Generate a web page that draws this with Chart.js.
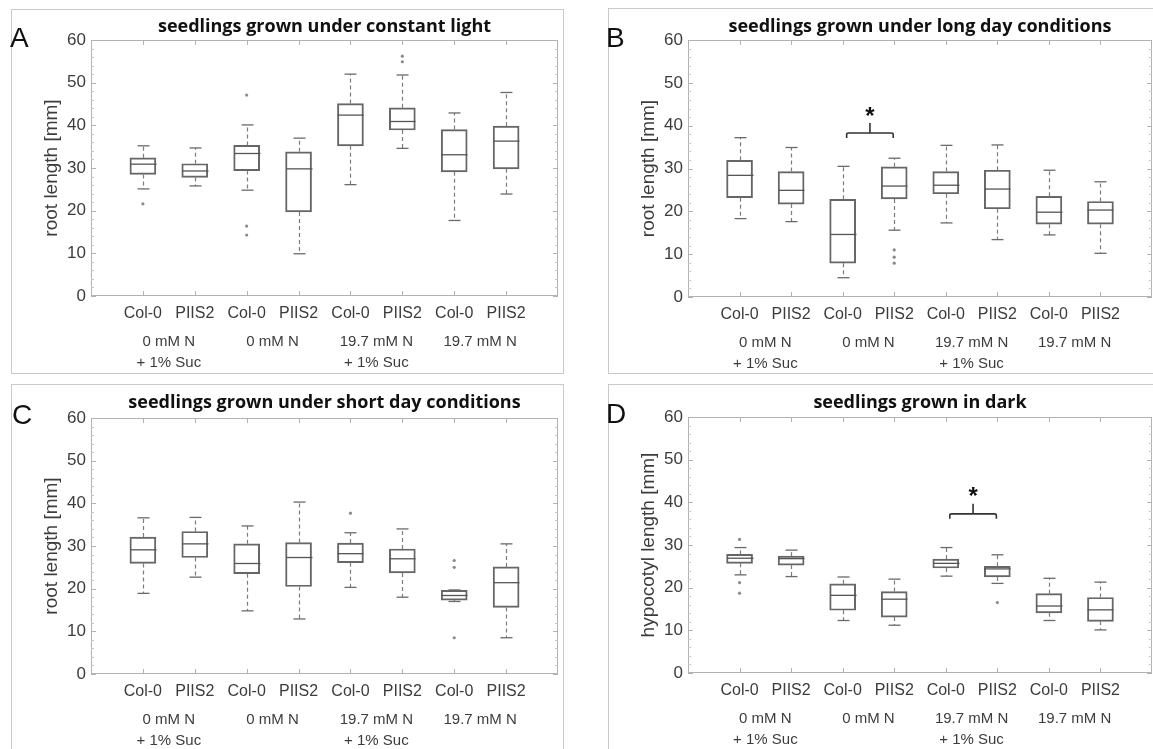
<!DOCTYPE html>
<html>
<head>
<meta charset="utf-8">
<script src="https://cdn.jsdelivr.net/npm/chart.js@4.4.1/dist/chart.umd.min.js"></script>
<style>
html, body { margin: 0; padding: 0; background: #fff; overflow: hidden; width: 1153px; height: 749px; }
.panel { position: absolute; border: 1px solid #c9c9c9; box-sizing: border-box; }
.panel canvas { position: absolute; left: 0; top: 0; }
.tag { position: absolute; font-family: "Liberation Sans", Arial, sans-serif; font-size: 28px; line-height: 1; color: #111; }
</style>
</head>
<body>
<div class="panel" id="pA" style="left:11px;top:9px;width:553px;height:365px"><canvas id="cA" width="551" height="363"></canvas></div>
<div class="panel" id="pB" style="left:608px;top:8px;width:552px;height:366px"><canvas id="cB" width="550" height="364"></canvas></div>
<div class="panel" id="pC" style="left:11px;top:384px;width:553px;height:368px"><canvas id="cC" width="551" height="366"></canvas></div>
<div class="panel" id="pD" style="left:608px;top:384px;width:552px;height:368px"><canvas id="cD" width="550" height="366"></canvas></div>
<div class="tag" style="left:10px;top:24px">A</div>
<div class="tag" style="left:606px;top:24px">B</div>
<div class="tag" style="left:12px;top:401px">C</div>
<div class="tag" style="left:606px;top:400px">D</div>

<script>
const genotypes = ['Col-0', 'PIIS2', 'Col-0', 'PIIS2', 'Col-0', 'PIIS2', 'Col-0', 'PIIS2'];
const media = [['0 mM N', '+ 1% Suc'], ['0 mM N'], ['19.7 mM N', '+ 1% Suc'], ['19.7 mM N']];
const yTicks = [0, 10, 20, 30, 40, 50, 60];

// A - constant light
const lightLo  = [25.1, 25.8, 24.8,  9.9, 26.1, 34.6, 17.7, 23.9];
const lightQ1  = [28.5, 27.8, 29.4, 19.7, 35.2, 38.9, 29.1, 29.8];
const lightMed = [30.9, 29.3, 33.4, 29.8, 42.4, 40.9, 33.1, 36.3];
const lightQ3  = [32.4, 31.0, 35.3, 33.8, 45.1, 44.1, 39.0, 39.8];
const lightHi  = [35.2, 34.7, 40.1, 37.0, 52.0, 51.8, 42.9, 47.7];
const lightOut = [[1, 21.6], [3, 47.1], [3, 16.4], [3, 14.3], [6, 56.2], [6, 54.9]];

// B - long day
const longLo  = [18.3, 17.6,  4.5, 15.6, 17.3, 13.4, 14.5, 10.2];
const longQ1  = [23.2, 21.7,  7.9, 22.9, 24.1, 20.6, 17.0, 17.0];
const longMed = [28.4, 24.9, 14.6, 25.9, 26.1, 25.2, 19.8, 20.3];
const longQ3  = [31.9, 29.3, 22.8, 30.4, 29.3, 29.6, 23.5, 22.3];
const longHi  = [37.2, 34.9, 30.5, 32.4, 35.4, 35.5, 29.6, 26.9];
const longOut = [[4, 11.0], [4, 9.3], [4, 7.9]];
const longSig = [3, 4, 38.3];

// C - short day
const shortLo  = [18.9, 22.7, 14.8, 12.9, 20.3, 18.0, 17.0,  8.5];
const shortQ1  = [25.9, 27.3, 23.5, 20.5, 26.1, 23.7, 17.3, 15.6];
const shortMed = [29.1, 30.5, 25.9, 27.3, 28.2, 27.0, 18.4, 21.4];
const shortQ3  = [32.1, 33.4, 30.5, 30.8, 30.7, 29.3, 19.6, 25.1];
const shortHi  = [36.6, 36.7, 34.7, 40.3, 33.1, 34.0, 19.7, 30.5];
const shortOut = [[5, 37.7], [7, 26.6], [7, 25.0], [7, 8.5]];

// D - dark (hypocotyl)
const darkLo  = [23.0, 22.6, 12.3, 11.2, 22.7, 21.0, 12.3, 10.1];
const darkQ1  = [25.7, 25.3, 14.7, 13.1, 24.6, 22.5, 14.1, 12.1];
const darkMed = [26.9, 26.8, 18.2, 17.3, 25.7, 24.4, 15.7, 14.8];
const darkQ3  = [27.8, 27.4, 20.9, 19.1, 26.7, 25.0, 18.6, 17.7];
const darkHi  = [29.4, 28.8, 22.5, 22.0, 29.4, 27.7, 22.2, 21.3];
const darkOut = [[1, 31.3], [1, 21.2], [1, 18.7], [6, 16.5]];
const darkSig = [5, 6, 37.3];

const txt = '#3c3c3c';
const sans = '"Liberation Sans", Arial, sans-serif';

// frame with inward ticks, like the MATLAB box
const framePlugin = {
    id: 'frame',
    beforeDatasetsDraw(chart) {
        const { ctx, chartArea: a, scales: { x, y } } = chart;
        ctx.save();
        ctx.strokeStyle = '#b2b2b2';
        ctx.lineWidth = 1;
        ctx.strokeRect(a.left + 0.5, a.top + 0.5, a.width - 1, a.height - 1);
        ctx.beginPath();
        genotypes.forEach((g, i) => {
            const px = Math.round(x.getPixelForValue(i + 1)) + 0.5;
            ctx.moveTo(px, a.bottom); ctx.lineTo(px, a.bottom - 5);
            ctx.moveTo(px, a.top); ctx.lineTo(px, a.top + 5);
        });
        yTicks.forEach(v => {
            const py = Math.round(y.getPixelForValue(v)) + 0.5;
            ctx.moveTo(a.left, py); ctx.lineTo(a.left + 5, py);
            ctx.moveTo(a.right, py); ctx.lineTo(a.right - 5, py);
        });
        ctx.stroke();
        ctx.strokeStyle = '#c8c8c8';
        ctx.beginPath();
        for (let v = 2; v < 60; v += 2) {
            if (v % 10 === 0) continue;
            const py = Math.round(y.getPixelForValue(v)) + 0.5;
            ctx.moveTo(a.left, py); ctx.lineTo(a.left + 3, py);
            ctx.moveTo(a.right, py); ctx.lineTo(a.right - 3, py);
        }
        ctx.stroke();
        ctx.restore();
    }
};

// whiskers, caps, medians and the significance bracket
const boxPlugin = {
    id: 'boxes',
    afterDatasetsDraw(chart, args, opts) {
        const { ctx, scales: { x, y } } = chart;
        const s = opts.stats;
        const seg = (x1, y1, x2, y2) => { ctx.beginPath(); ctx.moveTo(x1, y1); ctx.lineTo(x2, y2); ctx.stroke(); };
        ctx.save();
        s.lo.forEach((lo, i) => {
            const px = Math.round(x.getPixelForValue(i + 1)) + 0.5;
            const yLo = y.getPixelForValue(lo), yQ1 = y.getPixelForValue(s.q1[i]);
            const yQ3 = y.getPixelForValue(s.q3[i]), yHi = y.getPixelForValue(s.hi[i]);
            const yMed = y.getPixelForValue(s.med[i]);
            ctx.strokeStyle = '#7c7c7c';
            ctx.lineWidth = 1.2;
            ctx.setLineDash([4, 3]);
            if (yHi < yQ3) seg(px, yQ3, px, yHi);
            if (yLo > yQ1) seg(px, yQ1, px, yLo);
            ctx.setLineDash([]);
            ctx.strokeStyle = '#6a6a6a';
            ctx.lineWidth = 1.3;
            seg(px - 6, yHi, px + 6, yHi);
            seg(px - 6, yLo, px + 6, yLo);
            ctx.strokeStyle = '#555';
            seg(px - 13, yMed, px + 13, yMed);
        });
        if (opts.sig) {
            const [c1, c2, v] = opts.sig;
            const x1 = x.getPixelForValue(c1) + 4, x2 = x.getPixelForValue(c2) - 1;
            const yb = y.getPixelForValue(v), xm = (x1 + x2) / 2;
            ctx.strokeStyle = '#333';
            ctx.lineWidth = 1.6;
            ctx.beginPath();
            ctx.moveTo(x1, yb + 5); ctx.lineTo(x1, yb + 1.5);
            ctx.quadraticCurveTo(x1, yb, x1 + 2, yb);
            ctx.lineTo(x2 - 2, yb);
            ctx.quadraticCurveTo(x2, yb, x2, yb + 1.5);
            ctx.lineTo(x2, yb + 5);
            ctx.moveTo(xm, yb); ctx.lineTo(xm, yb - 10);
            ctx.stroke();
            ctx.fillStyle = '#111';
            ctx.font = 'bold 24px ' + sans;
            ctx.textAlign = 'center';
            ctx.textBaseline = 'middle';
            ctx.fillText('*', xm, yb - 16);
        }
        ctx.restore();
    }
};

function drawPanel(canvasId, p) {
    const canvas = document.getElementById(canvasId);
    const padLeft = 24;
    const bottomSpace = canvas.height - p.areaBottom;
    const boxes = p.q1.map((q, i) => ({ x: i + 1, y: [q, p.q3[i]] }));
    const outliers = p.out.map(o => ({ x: o[0], y: o[1] }));

    return new Chart(canvas, {
        type: 'bar',
        data: {
            datasets: [{
                type: 'bar',
                data: boxes,
                xAxisID: 'x',
                yAxisID: 'y',
                backgroundColor: 'rgba(255,255,255,0)',
                borderColor: '#666',
                borderWidth: 1.3,
                borderSkipped: false,
                barThickness: 26
            }, {
                type: 'scatter',
                data: outliers,
                xAxisID: 'x',
                yAxisID: 'y',
                pointRadius: 1.6,
                pointBackgroundColor: '#8a8a8a',
                pointBorderWidth: 0
            }]
        },
        options: {
            responsive: false,
            animation: false,
            layout: { padding: { left: padLeft, right: canvas.width - p.areaRight, top: 0, bottom: 0 } },
            plugins: {
                legend: { display: false },
                tooltip: { enabled: false },
                title: {
                    display: true,
                    text: p.title,
                    fullSize: false,
                    color: '#111',
                    font: { family: '"Open Sans", sans-serif', size: 18, weight: 'bold', lineHeight: 1.2 },
                    padding: { top: p.titleTop, bottom: p.areaTop - p.titleTop - 21.6 }
                },
                boxes: { stats: p, sig: p.sig }
            },
            scales: {
                x: {
                    type: 'linear', position: 'bottom', min: 0, max: 9, offset: false, weight: 0,
                    afterBuildTicks: s => { s.ticks = genotypes.map((g, i) => ({ value: i + 1 })); },
                    ticks: { callback: v => genotypes[v - 1], color: txt, padding: 8, autoSkip: false, maxRotation: 0,
                             font: { family: sans, size: 16 } },
                    grid: { display: false, drawTicks: false },
                    border: { display: false },
                    afterFit: s => { s.height = 26; }
                },
                x2: {
                    type: 'linear', position: 'bottom', min: 0, max: 9, offset: false, weight: 1,
                    afterBuildTicks: s => { s.ticks = media.map((m, i) => ({ value: 2 * i + 1.5 })); },
                    ticks: { callback: v => media[(v - 1.5) / 2], color: txt, padding: 9, autoSkip: false, maxRotation: 0,
                             font: { family: sans, size: 15, lineHeight: 1.4 } },
                    grid: { display: false, drawTicks: false },
                    border: { display: false },
                    afterFit: s => { s.height = bottomSpace - 26; }
                },
                y: {
                    min: 0, max: 60,
                    afterBuildTicks: s => { s.ticks = yTicks.map(v => ({ value: v })); },
                    ticks: { color: txt, padding: 5, font: { family: sans, size: 17 } },
                    grid: { display: false, drawTicks: false },
                    border: { display: false },
                    title: { display: true, text: p.yTitle, color: txt, padding: { top: 4, bottom: 0 },
                             font: { family: sans, size: 19 } },
                    afterFit: s => { s.width = p.areaLeft - padLeft; }
                }
            }
        },
        plugins: [framePlugin, boxPlugin]
    });
}

drawPanel('cA', { title: 'seedlings grown under constant light', yTitle: 'root length [mm]',
    areaLeft: 79, areaTop: 30, areaRight: 546, areaBottom: 286, titleTop: 5.6,
    lo: lightLo, q1: lightQ1, med: lightMed, q3: lightQ3, hi: lightHi, out: lightOut, sig: null });

drawPanel('cB', { title: 'seedlings grown under long day conditions', yTitle: 'root length [mm]',
    areaLeft: 79, areaTop: 31, areaRight: 543, areaBottom: 288, titleTop: 6.6,
    lo: longLo, q1: longQ1, med: longMed, q3: longQ3, hi: longHi, out: longOut, sig: longSig });

drawPanel('cC', { title: 'seedlings grown under short day conditions', yTitle: 'root length [mm]',
    areaLeft: 79, areaTop: 33, areaRight: 546, areaBottom: 289, titleTop: 6.6,
    lo: shortLo, q1: shortQ1, med: shortMed, q3: shortQ3, hi: shortHi, out: shortOut, sig: null });

drawPanel('cD', { title: 'seedlings grown in dark', yTitle: 'hypocotyl length [mm]',
    areaLeft: 79, areaTop: 32, areaRight: 543, areaBottom: 288, titleTop: 6.6,
    lo: darkLo, q1: darkQ1, med: darkMed, q3: darkQ3, hi: darkHi, out: darkOut, sig: darkSig });
</script>
</body>
</html>
